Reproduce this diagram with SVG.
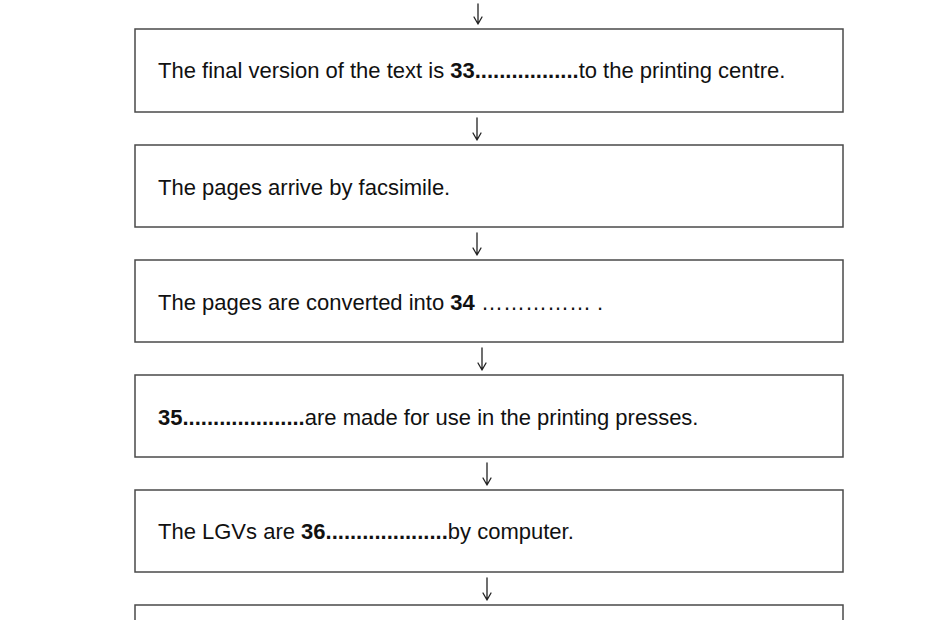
<svg xmlns="http://www.w3.org/2000/svg" width="930" height="620" viewBox="0 0 930 620">
<style>
.box{fill:#fff;stroke:#4a4a4a;stroke-width:1.5}
.t{font-family:"Liberation Sans",Arial,sans-serif;font-size:22px;fill:#111}
.b{font-weight:bold}
.arr{fill:none;stroke:#222;stroke-width:1.3;stroke-linecap:round;stroke-linejoin:round}
</style>
<rect width="930" height="620" fill="#fff"/>
<g id="connectors">
<path class="arr" d="M478 4V24M474 17L478 24L482 17"/>
<path class="arr" d="M477 118V140M473 133L477 140L481 133"/>
<path class="arr" d="M477 233V255M473 248L477 255L481 248"/>
<path class="arr" d="M482 348V370M478 363L482 370L486 363"/>
<path class="arr" d="M487 463V485M483 478L487 485L491 478"/>
<path class="arr" d="M487 578V600M483 593L487 600L491 593"/>
</g>
<g id="node1">
<rect class="box" x="135" y="29" width="708" height="83"/>
<text class="t" x="158" y="78">The final version of the text is <tspan class="b">33.................</tspan>to the printing centre.</text>
</g>
<g id="node2">
<rect class="box" x="135" y="145" width="708" height="82"/>
<text class="t" x="158" y="195">The pages arrive by facsimile.</text>
</g>
<g id="node3">
<rect class="box" x="135" y="260" width="708" height="82"/>
<text class="t" x="158" y="310">The pages are converted into <tspan class="b">34</tspan> …………… .</text>
</g>
<g id="node4">
<rect class="box" x="135" y="375" width="708" height="82"/>
<text class="t" x="158" y="425"><tspan class="b">35....................</tspan>are made for use in the printing presses.</text>
</g>
<g id="node5">
<rect class="box" x="135" y="490" width="708" height="82"/>
<text class="t" x="158" y="539">The LGVs are <tspan class="b">36....................</tspan>by computer.</text>
</g>
<g id="node6">
<rect class="box" x="135" y="605" width="708" height="40"/>
</g>
</svg>
